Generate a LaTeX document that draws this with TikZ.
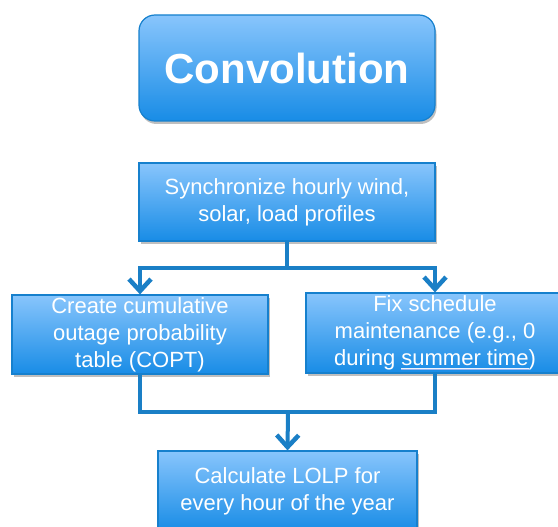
\documentclass[tikz,border=0pt]{standalone}
\usepackage{fontspec}
\setmainfont{Liberation Sans}
\usetikzlibrary{arrows.meta,shadows,calc}
\definecolor{boxtop}{RGB}{136,197,252}
\definecolor{boxbot}{RGB}{24,140,230}
\definecolor{boxedge}{RGB}{22,128,205}
\definecolor{conncol}{RGB}{26,127,198}
\definecolor{ulb}{RGB}{150,180,240}
\newcommand\summerul[1]{\setbox0=\hbox{#1}\rlap{\color{white!85!ulb}\rule[-3pt]{\wd0}{1.1pt}}\rlap{\color{ulb}\rule[-4.6pt]{\wd0}{1.1pt}}\box0}
\tikzset{
  x=1pt,y=1pt,
  boxstyle/.style={draw=boxedge, line width=1.2pt, top color=boxtop, bottom color=boxbot,
    text=white, align=center, inner sep=0pt,
    drop shadow={shadow xshift=1.5pt, shadow yshift=-3pt, opacity=0.25, fill=black},
    font=\fontsize{22}{27}\selectfont},
  conn/.style={draw=conncol, line width=4pt},
  arr/.style={-{Straight Barb[length=12pt,width=22pt,line width=4.5pt]}}
}
\begin{document}
\begin{tikzpicture}
\useasboundingbox (0,0) rectangle (558,-527);
\node[boxstyle, rounded corners=16pt, minimum width=296pt, minimum height=106pt,
  font=\fontsize{42}{48}\selectfont\bfseries] (conv) at (287,-68) {Convolution};
\node[boxstyle, minimum width=296pt, minimum height=78pt] (sync) at (287,-202)
  {Synchronize hourly wind,\\solar, load profiles};
\node[boxstyle, minimum width=256pt, minimum height=79pt] (left) at (140,-334.5)
  {Create cumulative\\outage probability\\table (COPT)};
\node[boxstyle, minimum width=258pt, minimum height=80pt] (right) at (435,-333)
  {Fix schedule\\maintenance (e.g., 0\\during \summerul{summer time})};
\node[boxstyle, minimum width=259pt, minimum height=80pt] (bottom) at (287.5,-491)
  {Calculate LOLP for\\every hour of the year};
\coordinate (j1) at (287,-268);
\coordinate (j2) at (288,-412);
\draw[conn] (sync.south) -- (j1);
\draw[conn,arr] (j1) -| (left.north);
\draw[conn,arr] (j1) -| (right.north);
\draw[conn] (left.south) |- (j2);
\draw[conn] (right.south) |- (j2);
\draw[conn,arr] (j2) -- (bottom.north);
\end{tikzpicture}
\end{document}
